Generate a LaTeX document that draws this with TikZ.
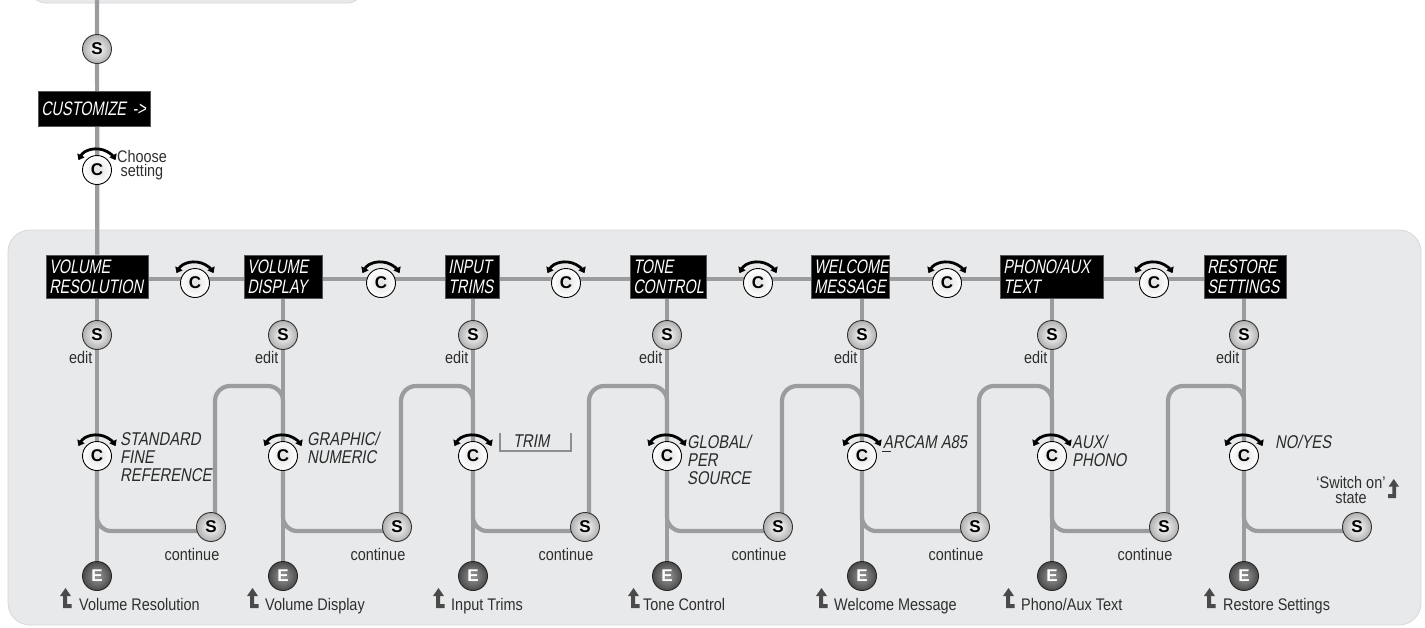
\documentclass[tikz,border=0pt]{standalone}
\usepackage{fontspec}
\setmainfont[FakeStretch=0.86]{Liberation Sans}
\newfontfamily\lcdA[FakeStretch=0.74,FakeSlant=0.18]{Liberation Sans}
\newfontfamily\lcdB[FakeStretch=0.8,FakeSlant=0.18]{Liberation Sans}
\newfontfamily\btnfont{Liberation Sans}
\usetikzlibrary{arrows.meta,calc}
\pgfdeclarelayer{panels}
\pgfdeclarelayer{lines}
\pgfsetlayers{panels,lines,main}
\definecolor{linegray}{HTML}{9B9C9E}
\definecolor{panel}{HTML}{E8E9EA}
\definecolor{panelline}{HTML}{D6D7D9}
\definecolor{btngray}{HTML}{B0B0B0}
\definecolor{edark}{HTML}{4A4A4A}
\definecolor{elight}{HTML}{9A9A9A}
\definecolor{knobin}{HTML}{E2E2E2}
\definecolor{txtcol}{HTML}{2E2E2E}
\definecolor{optcol}{HTML}{2A2A2A}
\definecolor{icongray}{HTML}{4A4A4A}
\definecolor{bracketcol}{HTML}{8E8F91}
\definecolor{boxline}{HTML}{555555}
\begin{document}
\begin{tikzpicture}[x=1pt,y=-1pt,
  flow/.style={draw=linegray, line width=4.2pt},
  sbtn/.style={circle, minimum size=29pt, inner sep=0pt, draw=black!80, line width=0.9pt,
    inner color=white, outer color=btngray, text=black,
    font=\btnfont\fontsize{17}{17}\selectfont\bfseries},
  ebtn/.style={circle, minimum size=29pt, inner sep=0pt, draw=black!85, line width=0.9pt,
    inner color=elight, outer color=edark, text=white,
    font=\btnfont\fontsize{17}{17}\selectfont\bfseries},
  knob/.style={circle, minimum size=29pt, inner sep=0pt, draw=black, line width=0.9pt,
    inner color=knobin, outer color=white, text=black,
    font=\btnfont\fontsize{17}{17}\selectfont\bfseries},
  lcdbox/.style={fill=black, draw=boxline, line width=0.6pt, text=white,
    font=\lcdA\fontsize{19.5}{20}\selectfont, inner xsep=3pt, inner ysep=0pt,
    minimum height=43pt, align=left, anchor=west},
  opt/.style={text=optcol, font=\lcdB\fontsize{18.5}{18}\selectfont, align=left,
    anchor=north west, inner sep=0pt},
  lbl/.style={text=txtcol, font=\fontsize{16.8}{14}\selectfont, inner sep=0pt},
  knobarc/.pic={\draw[line width=2.8pt, black, {Triangle[length=5.5pt,width=8pt]}-{Triangle[length=5.5pt,width=8pt]}]
     (-152:21) arc[start angle=-152, end angle=-28, radius=21];},
  backicon/.pic={\fill[icongray] (5.5,0) -- (11,8) -- (7,8) -- (7,16) -- (11.5,16) -- (11.5,20)
     -- (3,20) -- (3,8) -- (0,8) -- cycle;}
]
\useasboundingbox (0,0) rectangle (1425,627);
\coordinate (topend) at (97,-3);
\coordinate (rowy) at (0,279);
\coordinate (rise) at (0,386);

% top part
\node[sbtn] (s0) at (97,49) {S};
\node[lcdbox, minimum height=35pt, text width=106pt] (cust) at (38,108.5) {CUSTOMIZE ->};
\node[knob] (c0) at (97,170) {C};
\pic at (c0) {knobarc};
\node[lbl, align=center, anchor=north] (cs) at (142,150.5) {Choose\\setting};

% menu boxes
\node[lcdbox, text width=96pt] (b1) at (46,276.5) {VOLUME\\RESOLUTION};
\node[lcdbox, text width=72pt] (b2) at (244,276.5) {VOLUME\\DISPLAY};
\node[lcdbox, text width=48pt] (b3) at (445,276.5) {INPUT\\TRIMS};
\node[lcdbox, text width=70pt] (b4) at (630,276.5) {TONE\\CONTROL};
\node[lcdbox, text width=72pt] (b5) at (811,276.5) {WELCOME\\MESSAGE};
\node[lcdbox, text width=97pt] (b6) at (1000,276.5) {PHONO/AUX\\TEXT};
\node[lcdbox, text width=76pt] (b7) at (1204,276.5) {RESTORE\\SETTINGS};

% row knobs
\foreach \k/\kx in {1/195,2/381,3/566,4/758,5/947,6/1154}{
  \node[knob] (k\k) at (\kx,283) {C};
  \pic at (k\k) {knobarc};
}

% columns
\foreach \i/\cx/\sx/\ix/\tx/\lab in {1/97/211/60/79/{Volume Resolution},
    2/283/397/247/265/{Volume Display}, 3/473/585/433/451/{Input Trims},
    4/667/778/628/643/{Tone Control}, 5/862/975/816/834/{Welcome Message},
    6/1052/1164/1003/1021/{Phono/Aux Text}, 7/1244/1357/1204/1223/{Restore Settings}}{
  \node[sbtn] (s\i) at (\cx,335) {S};
  \node[lbl, anchor=base east] (ed\i) at ({\cx-4.5},363) {edit};
  \node[knob] (c\i) at (\cx,456) {C};
  \pic at (c\i) {knobarc};
  \node[ebtn] (e\i) at (\cx,576) {E};
  \node[sbtn] (t\i) at (\sx,527) {S};
  \pic at (\ix,588) {backicon};
  \node[lbl, anchor=base west] (l\i) at (\tx,610) {\lab};
  \ifnum\i<7
    \node[lbl, anchor=base east] (ct\i) at ({\sx+8.5},560) {continue};
  \fi
}

% option texts
\node[opt] (o1) at (120,432) {STANDARD\\FINE\\REFERENCE};
\node[opt] (o2) at (307,432) {GRAPHIC/\\NUMERIC};
\node[opt] (o3) at (513,435) {TRIM};
\draw[bracketcol, line width=2pt] (500,433) -- (500,451) -- (571,451) -- (571,433);
\node[opt] (o4) at (687,435) {GLOBAL/\\PER\\SOURCE};
\node[opt] (o5) at (883,435) {ARCAM A85};
\draw[optcol, line width=1.5pt] (882,451.5) -- (891,451.5);
\node[opt] (o6) at (1072,435) {AUX/\\PHONO};
\node[opt] (o7) at (1275,435) {NO/YES};

% switch-on label
\node[lbl, align=center, anchor=north, font=\fontsize{16.8}{15}\selectfont] (sw) at (1351,476) {‘Switch on’\\state};
\pic[xscale=-1, scale=0.95] at (1399,479) {backicon};

% connectors
\begin{pgfonlayer}{lines}
  \draw[flow] (topend) -- (b1.north);
  \draw[flow] (b1.east |- rowy) -- (b7.west |- rowy);
  \foreach \i in {1,...,7}{
    \draw[flow] (b\i.south -| s\i) -- (e\i.center);
    \draw[flow, rounded corners=14pt] (c\i.center) |- ([yshift=-4pt]t\i.center);
  }
  \foreach \i in {1,...,6}{
    \pgfmathtruncatemacro\j{\i+1}
    \draw[flow, rounded corners=15pt] ([xshift=4pt]t\i.center) |- (rise -| c\j) -- (c\j.center);
  }
\end{pgfonlayer}

% panels
\begin{pgfonlayer}{panels}
  \filldraw[fill=panel, draw=panelline, line width=0.8pt, rounded corners=22pt] (8,230) rectangle (1421,625);
  \filldraw[fill=panel, draw=panelline, line width=0.8pt, rounded corners=16pt] (30,-30) rectangle (363,3);
\end{pgfonlayer}
\end{tikzpicture}
\end{document}
